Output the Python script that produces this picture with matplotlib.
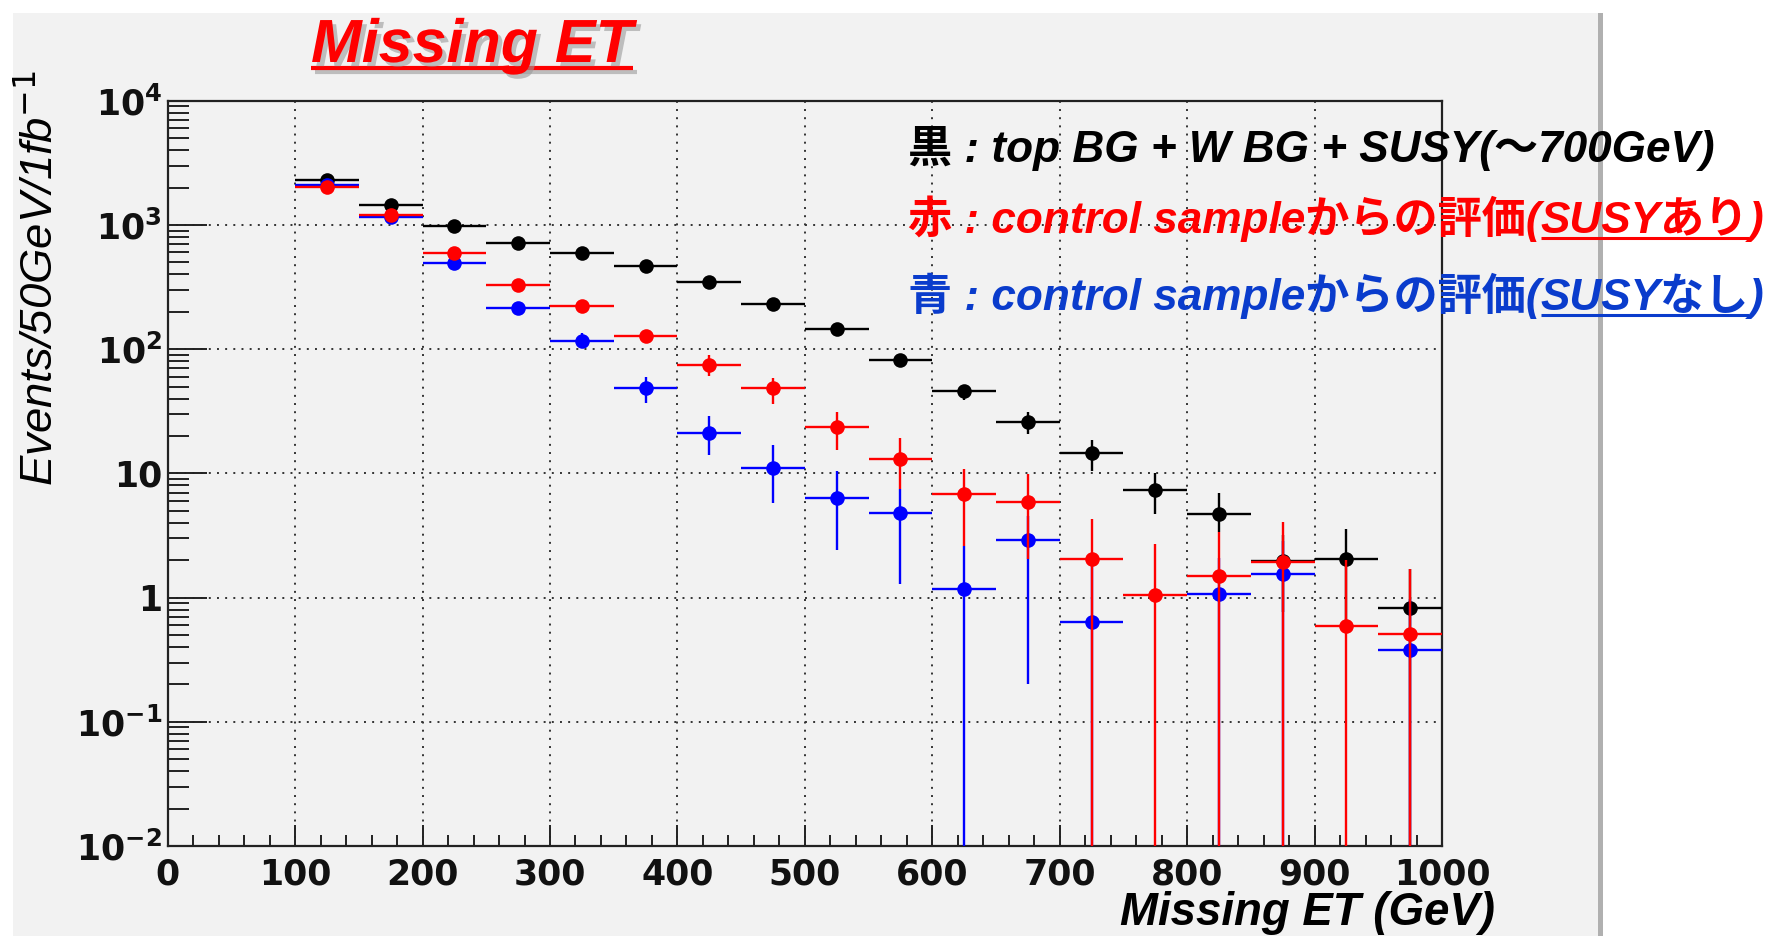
import numpy as np
import matplotlib
matplotlib.use("Agg")
import matplotlib.pyplot as plt
from matplotlib import patheffects as pe
from matplotlib import font_manager as fm
from matplotlib.lines import Line2D
from matplotlib.patches import Rectangle
from matplotlib.ticker import MultipleLocator, LogLocator, FixedLocator, FixedFormatter, NullFormatter

# ---------------- data ----------------
bin_centers = [125, 175, 225, 275, 325, 375, 425, 475, 525, 575,
               625, 675, 725, 775, 825, 875, 925, 975]
bin_half_width = 25

black_vals = [2280, 1450, 975, 720, 598, 470, 348, 229, 145, 81.5,
              45.8, 25.8, 14.5, 7.4, 4.74, 1.97, 2.03, 0.82]
black_err_lo = [60, 45, 35, 30, 27, 24, 21, 17, 13, 9,
                6.9, 5.2, 4.0, 2.7, 1.34, 1.2, 1.5, 0.82]
black_err_hi = [60, 45, 35, 30, 27, 24, 21, 17, 13, 9,
                5.5, 5.5, 4.2, 2.7, 2.26, 1.2, 1.52, 0.88]

red_vals = [2010, 1200, 598, 327, 221, 128, 74, 48.5, 23.4, 13.1,
            6.8, 5.85, 2.03, 1.04, 1.49, 1.93, 0.59, 0.51]
red_err_lo = [60, 45, 30, 22, 18, 14, 13.6, 12.5, 7.9, 5.6,
              4.2, 3.8, 2.03, 1.04, 1.49, 1.93, 0.59, 0.51]
red_err_hi = [60, 45, 30, 22, 18, 14, 15, 10.5, 8, 6,
              4, 4.05, 2.3, 1.65, 1.9, 2.15, 1.4, 1.2]

blue_vals = [2100, 1150, 498, 214, 117, 48.3, 21.1, 11.1, 6.3, 4.8,
             1.17, 2.91, 0.64, np.nan, 1.07, 1.54, np.nan, 0.38]
blue_err_lo = [60, 45, 25, 15, 15, 11.3, 7.1, 5.3, 3.9, 3.52,
               1.17, 2.71, 0.64, np.nan, 1.07, 1.54, np.nan, 0.38]
blue_err_hi = [60, 45, 25, 15, 17, 11.7, 7.9, 5.8, 4.1, 2.7,
               1.43, 1.6, 1.4, np.nan, 1.0, 1.3, np.nan, 0.6]

x_ticks = [0, 100, 200, 300, 400, 500, 600, 700, 800, 900, 1000]
x_ticklabels = ["0", "100", "200", "300", "400", "500", "600", "700", "800", "900", "1000"]
y_ticks = [1e-2, 1e-1, 1, 10, 1e2, 1e3, 1e4]
y_ticklabels = [r"$\mathbf{10^{-2}}$", r"$\mathbf{10^{-1}}$", "1", "10",
                r"$\mathbf{10^{2}}$", r"$\mathbf{10^{3}}$", r"$\mathbf{10^{4}}$"]

title_text = "Missing ET"
xlabel_text = "Missing ET (GeV)"
ylabel_text = r"Events/50GeV/1fb$^{-1}$"
legend_lines = [
    ([("黒 : top BG + W BG + SUSY(～700GeV)", False)], "#000000"),
    ([("赤 : control sampleからの評価(", False), ("SUSYあり", True), (")", False)], "#ff0000"),
    ([("青 : control sampleからの評価(", False), ("SUSYなし", True), (")", False)], "#0a3ccc"),
]

# ---------------- helpers ----------------
def has_font(name):
    try:
        fm.findfont(fm.FontProperties(family=name), fallback_to_default=False)
        return True
    except Exception:
        return False

NARROW = "Liberation Sans Narrow" if has_font("Liberation Sans Narrow") else "Liberation Sans"

W, H = 1773, 936
fig = plt.figure(figsize=(W / 100, H / 100), dpi=100, facecolor="white")
renderer = fig.canvas.get_renderer()

def fx(px):
    return px / W

def fy(py):
    return 1 - py / H

# gray panel + right shadow edge
fig.patches.append(Rectangle((fx(13), 0), fx(1598 - 13), 1 - 13 / H, transform=fig.transFigure,
                             facecolor="#f2f2f2", edgecolor="none", zorder=-10))
fig.patches.append(Rectangle((fx(1598), 0), fx(5), 1 - 13 / H, transform=fig.transFigure,
                             facecolor="#b0b0b0", edgecolor="none", zorder=-9))

ax = fig.add_axes([fx(167.7), fy(846), fx(1442 - 167.7), (846 - 100.7) / H])
ax.set_facecolor("#f2f2f2")
ax.set_xlim(0, 1000)
ax.set_yscale("log", nonpositive="clip")
ax.set_ylim(1e-2, 1e4)

for s in ax.spines.values():
    s.set_linewidth(1.6)
    s.set_color("#222222")

ax.xaxis.set_major_locator(FixedLocator(x_ticks))
ax.xaxis.set_major_formatter(FixedFormatter(x_ticklabels))
ax.xaxis.set_minor_locator(MultipleLocator(20))
ax.yaxis.set_major_locator(FixedLocator(y_ticks))
ax.yaxis.set_major_formatter(FixedFormatter(y_ticklabels))
ax.yaxis.set_minor_locator(LogLocator(base=10, subs=np.arange(2, 10), numticks=100))
ax.yaxis.set_minor_formatter(NullFormatter())

ax.tick_params(which="both", direction="in", top=False, right=False, width=1.4, color="#222222")
ax.tick_params(axis="y", which="major", length=28, pad=4)
ax.tick_params(axis="y", which="minor", length=15)
ax.tick_params(axis="x", which="major", length=15, pad=8)
ax.tick_params(axis="x", which="minor", length=8)
for lab in ax.get_xticklabels() + ax.get_yticklabels():
    lab.set_fontfamily("DejaVu Sans")
    lab.set_fontweight("bold")
    lab.set_fontsize(25)
    lab.set_color("#111111")
plt.rcParams["mathtext.fontset"] = "dejavusans"

ax.set_axisbelow(True)
ax.grid(which="major", color="#333333", linestyle=(0, (1, 3.2)), linewidth=1.4)

def draw_series(vals, lo, hi, color, z):
    v = np.asarray(vals, float)
    l = np.asarray(lo, float)
    h = np.asarray(hi, float)
    x = np.asarray(bin_centers, float)
    m = ~np.isnan(v)
    ax.errorbar(x[m], v[m], xerr=bin_half_width, yerr=[l[m], h[m]], fmt="o", color=color,
                ms=10.5, mew=0, elinewidth=1.7, capsize=0, zorder=z)

draw_series(black_vals, black_err_lo, black_err_hi, "#000000", 3)
draw_series(blue_vals, blue_err_lo, blue_err_hi, "#0000ff", 4)
draw_series(red_vals, red_err_lo, red_err_hi, "#ff0000", 5)

def fit_width(t, target, vertical=False):
    bb = t.get_window_extent(renderer)
    cur = bb.height if vertical else bb.width
    t.set_fontsize(t.get_fontsize() * target / cur)

# title
shadow = [pe.SimplePatchShadow(offset=(3, -3), shadow_rgbFace="#9a9a9a", alpha=0.6), pe.Normal()]
title = fig.text(fx(311), fy(62), title_text, color="#ff0000", fontfamily=[NARROW, "DejaVu Sans"],
                 fontweight="bold", fontstyle="italic", fontsize=50, va="baseline", ha="left")
fit_width(title, 322)
title.set_path_effects(shadow)
tb = title.get_window_extent(renderer)
fig.add_artist(Line2D([tb.x0 / W, tb.x1 / W], [fy(68), fy(68)], color="#ff0000", lw=3,
                      transform=fig.transFigure, solid_capstyle="butt",
                      path_effects=[pe.SimpleLineShadow(offset=(3, -3), shadow_color="#9a9a9a", alpha=0.6), pe.Normal()]))

# x label
xl = fig.text(fx(1495), fy(925), xlabel_text, color="black", fontfamily=[NARROW, "DejaVu Sans"],
              fontweight="bold", fontstyle="italic", fontsize=36, va="baseline", ha="right")
fit_width(xl, 375)

# y label
yl = fig.text(fx(40), fy(70), ylabel_text, color="black", fontfamily=[NARROW, "DejaVu Sans"],
              fontstyle="italic", fontsize=38, rotation=90, va="top", ha="center")
fit_width(yl, 415, vertical=True)

# legend text lines
leg_family = ["Liberation Sans", "Noto Sans CJK JP", "DejaVu Sans"]
probe = fig.text(0, 0, legend_lines[0][0][0][0], fontfamily=leg_family, fontstyle="italic",
                 fontweight="bold", fontsize=32)
bbp = probe.get_window_extent(renderer)
leg_size = 32 * 809 / bbp.width
probe.remove()

baselines = [162, 233, 310]
for (pieces, color), base in zip(legend_lines, baselines):
    xpix = 908
    for txt, under in pieces:
        t = fig.text(fx(xpix), fy(base), txt, color=color, fontfamily=leg_family,
                     fontstyle="italic", fontweight="bold", fontsize=leg_size,
                     va="baseline", ha="left")
        bb = t.get_window_extent(renderer)
        if under:
            fig.add_artist(Line2D([bb.x0 / W, bb.x1 / W], [fy(base + 5), fy(base + 5)], color=color,
                                  lw=2.2, transform=fig.transFigure, solid_capstyle="butt"))
        xpix = bb.x1

fig.savefig("out.png", dpi=100, facecolor="white")
